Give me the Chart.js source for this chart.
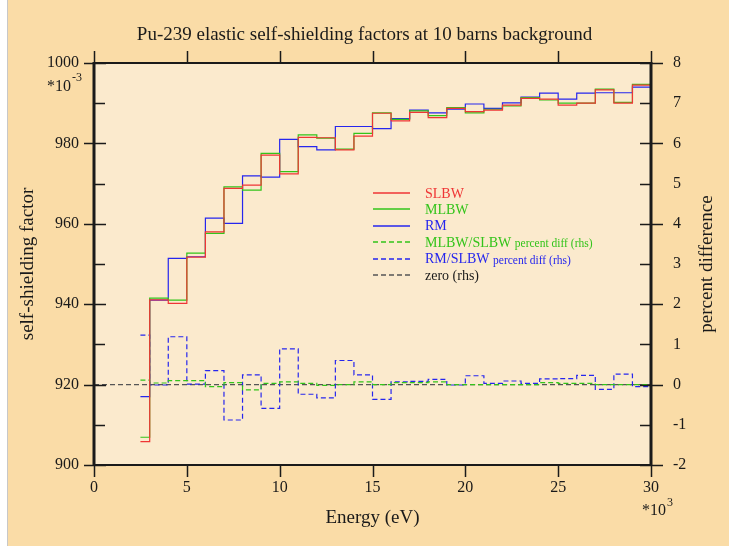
<!DOCTYPE html>
<html>
<head>
<meta charset="utf-8">
<script src="https://cdn.jsdelivr.net/npm/chart.js@4.4.1/dist/chart.umd.min.js"></script>
<style>
html, body { margin: 0; padding: 0; background: #fff; }
#c { display: block; }
</style>
</head>
<body>
<canvas id="c" width="729" height="546"></canvas>
<script>
// energy bins, in units of 10^3 eV (each bin holds its value until the next start)
var binStart = [2.5, 3, 4, 5, 6, 7, 8, 9, 10, 11, 12, 13, 14, 15, 16, 17, 18, 19, 20, 21, 22, 23, 24, 25, 26, 27, 28, 29];
var binEnd = 30;
// self-shielding factors, in units of 10^-3
var slbw = [905.8, 941.1, 940.2, 951.7, 958.0, 968.8, 969.6, 977.1, 972.4, 981.5, 981.4, 978.4, 981.8, 987.5,
  985.6, 987.7, 986.4, 988.7, 987.9, 988.3, 989.5, 991.2, 991.0, 989.5, 990.0, 993.3, 990.0, 994.5];
var mlbw = [906.9, 941.5, 941.0, 952.7, 957.6, 969.2, 968.4, 977.5, 973.0, 982.1, 981.3, 978.6, 982.5, 987.6,
  986.0, 988.1, 986.9, 988.9, 987.6, 988.5, 989.3, 991.4, 990.8, 990.0, 990.0, 993.5, 990.2, 994.7];
var rm = [917.0, 941.0, 951.4, 951.8, 961.4, 960.1, 971.9, 971.6, 981.0, 979.2, 978.4, 984.2, 984.2, 983.7,
  986.2, 988.3, 987.6, 988.5, 989.8, 988.7, 990.1, 991.5, 992.5, 991.0, 992.5, 992.6, 992.6, 994.0];
// percent differences (rhs)
var mlbwPct = [0.11, 0.04, 0.10, 0.10, -0.05, 0.05, -0.13, 0.03, 0.07, 0.03, -0.02, 0.00, 0.07, 0.00,
  0.05, 0.05, 0.07, 0.00, 0.00, 0.00, 0.00, 0.00, 0.05, 0.03, 0.03, 0.00, 0.00, 0.00];
var rmPct = [1.23, -0.01, 1.19, 0.01, 0.35, -0.88, 0.24, -0.59, 0.89, -0.24, -0.33, 0.60, 0.24, -0.37,
  0.07, 0.08, 0.13, -0.01, 0.22, 0.03, 0.09, 0.03, 0.14, 0.15, 0.23, -0.12, 0.26, -0.05];
var zeroX = [0, 30];
var zeroY = [0, 0];

// axes
var xTicks = [0, 5, 10, 15, 20, 25, 30];
var leftTicks = [900, 920, 940, 960, 980, 1000];
var leftMinor = [910, 930, 950, 970, 990];
var rightTicks = [-2, -1, 0, 1, 2, 3, 4, 5, 6, 7, 8];
var rightMajor = [-2, 0, 2, 4, 6, 8];

var legendNames = ['SLBW', 'MLBW', 'RM', 'MLBW/SLBW', 'RM/SLBW', 'zero (rhs)'];
var legendSuffix = ['', '', '', 'percent diff (rhs)', 'percent diff (rhs)', ''];

const SERIF = '"Liberation Serif", "DejaVu Serif", serif';
const RED = '#ef3535';
const GREEN = '#33c41a';
const BLUE = '#2626ee';
const ZERO = '#555555';

function steps(vals) {
  var pts = binStart.map(function (x, i) { return { x: x, y: vals[i] }; });
  pts.push({ x: binEnd, y: vals[vals.length - 1] });
  return pts;
}

var bgPlugin = {
  id: 'bg',
  beforeDraw: function (chart) {
    var ctx = chart.ctx, a = chart.chartArea;
    ctx.save();
    ctx.fillStyle = '#fadca7';
    ctx.fillRect(0, 0, chart.width, chart.height);
    ctx.fillStyle = '#ffffff';
    ctx.fillRect(0, 0, 7, chart.height);
    ctx.fillStyle = '#c8c8c8';
    ctx.fillRect(7, 0, 1, chart.height);
    ctx.fillStyle = '#fbeacd';
    ctx.fillRect(a.left, a.top, a.right - a.left, a.bottom - a.top);
    ctx.restore();
  }
};

var framePlugin = {
  id: 'frame',
  afterDraw: function (chart) {
    var ctx = chart.ctx, a = chart.chartArea;
    var x = chart.scales.x, y = chart.scales.y, y1 = chart.scales.y1;
    ctx.save();
    ctx.strokeStyle = '#1a1a1a';
    // ticks
    ctx.lineWidth = 1.5;
    ctx.beginPath();
    leftTicks.forEach(function (v) {
      var py = Math.round(y.getPixelForValue(v)) + 0.5;
      ctx.moveTo(a.left - 10, py); ctx.lineTo(a.left + 12, py);
    });
    leftMinor.forEach(function (v) {
      var py = Math.round(y.getPixelForValue(v)) + 0.5;
      ctx.moveTo(a.left, py); ctx.lineTo(a.left + 11, py);
    });
    rightTicks.forEach(function (v) {
      var py = Math.round(y1.getPixelForValue(v)) + 0.5;
      var out = rightMajor.indexOf(v) >= 0 ? 12 : 0;
      ctx.moveTo(a.right - 11, py); ctx.lineTo(a.right + out, py);
    });
    xTicks.forEach(function (v) {
      var px = Math.round(x.getPixelForValue(v)) + 0.5;
      ctx.moveTo(px, a.bottom); ctx.lineTo(px, a.bottom + 12);
      ctx.moveTo(px, a.top); ctx.lineTo(px, a.top - 12);
    });
    ctx.stroke();
    // frame
    ctx.lineWidth = 2;
    ctx.beginPath();
    ctx.moveTo(a.left, a.top); ctx.lineTo(a.right, a.top);
    ctx.moveTo(a.left, a.bottom); ctx.lineTo(a.right, a.bottom);
    ctx.stroke();
    ctx.lineWidth = 3;
    ctx.beginPath();
    ctx.moveTo(a.left, a.top - 1); ctx.lineTo(a.left, a.bottom + 1);
    ctx.moveTo(a.right, a.top - 1); ctx.lineTo(a.right, a.bottom + 1);
    ctx.stroke();

    // exponent notes
    ctx.fillStyle = '#1a1a1a';
    ctx.textBaseline = 'middle';
    ctx.textAlign = 'left';
    ctx.font = '16px ' + SERIF;
    ctx.fillText('*10', 47, 87);
    ctx.fillText('*10', 642, 511);
    ctx.font = '12px ' + SERIF;
    ctx.fillText('-3', 72, 78);
    ctx.fillText('3', 667, 503);

    // right axis title
    ctx.save();
    ctx.translate(707, (a.top + a.bottom) / 2);
    ctx.rotate(-Math.PI / 2);
    ctx.textAlign = 'center';
    ctx.font = '19px ' + SERIF;
    ctx.fillText('percent difference', 0, 0);
    ctx.restore();

    // legend
    var ds = chart.data.datasets;
    for (var i = 0; i < legendNames.length; i++) {
      var d = ds[i];
      var ly = 193 + i * 16.4;
      ctx.strokeStyle = d.borderColor;
      ctx.lineWidth = 1.4;
      ctx.setLineDash(d.borderDash || []);
      ctx.beginPath();
      ctx.moveTo(373, Math.round(ly));
      ctx.lineTo(410, Math.round(ly));
      ctx.stroke();
      ctx.setLineDash([]);
      ctx.fillStyle = i === 5 ? '#1a1a1a' : d.borderColor;
      ctx.font = '14px ' + SERIF;
      ctx.textBaseline = 'middle';
      ctx.fillText(legendNames[i], 425, ly + 1);
      if (legendSuffix[i]) {
        var w = ctx.measureText(legendNames[i] + ' ').width;
        ctx.font = '11.5px ' + SERIF;
        ctx.fillText(legendSuffix[i], 425 + w, ly + 2);
      }
    }
    ctx.restore();
  }
};

var ctx = document.getElementById('c').getContext('2d');
var myChart = new Chart(ctx, {
  type: 'line',
  data: {
    datasets: [{
      label: 'SLBW',
      data: steps(slbw),
      borderColor: RED,
      yAxisID: 'y',
    }, {
      label: 'MLBW',
      data: steps(mlbw),
      borderColor: GREEN,
      yAxisID: 'y',
    }, {
      label: 'RM',
      data: steps(rm),
      borderColor: BLUE,
      yAxisID: 'y',
    }, {
      label: 'MLBW/SLBW percent diff (rhs)',
      data: steps(mlbwPct),
      borderColor: GREEN,
      borderDash: [5, 3],
      yAxisID: 'y1',
    }, {
      label: 'RM/SLBW percent diff (rhs)',
      data: steps(rmPct),
      borderColor: BLUE,
      borderDash: [5, 3],
      yAxisID: 'y1',
    }, {
      label: 'zero (rhs)',
      data: zeroX.map(function (v, i) { return { x: v, y: zeroY[i] }; }),
      borderColor: ZERO,
      borderDash: [5, 3],
      yAxisID: 'y1',
    }]
  },
  options: {
    responsive: false,
    animation: false,
    events: [],
    datasets: {
      line: { stepped: 'before', pointRadius: 0, borderWidth: 1.2, fill: false, tension: 0 }
    },
    layout: { padding: 0 },
    plugins: {
      legend: { display: false },
      tooltip: { enabled: false },
      title: {
        display: true,
        text: 'Pu-239 elastic self-shielding factors at 10 barns background',
        color: '#1a1a1a',
        font: { family: SERIF, size: 19, weight: 'normal' },
        padding: { top: 24, bottom: 16.2 }
      }
    },
    scales: {
      x: {
        type: 'linear',
        position: 'bottom',
        min: 0,
        max: 30,
        afterBuildTicks: function (s) { s.ticks = xTicks.map(function (v) { return { value: v }; }); },
        afterFit: function (s) { s.height = 81; },
        grid: { display: false, drawTicks: false },
        border: { display: false },
        ticks: { color: '#1a1a1a', font: { family: SERIF, size: 16 }, padding: 13.5, maxRotation: 0,
          callback: function (v) { return String(v); } },
        title: {
          display: true,
          text: 'Energy (eV)',
          color: '#1a1a1a',
          font: { family: SERIF, size: 19 },
          padding: { top: 0, bottom: 16.6 }
        }
      },
      y: {
        type: 'linear',
        position: 'left',
        min: 900,
        max: 1000,
        afterBuildTicks: function (s) { s.ticks = leftTicks.map(function (v) { return { value: v }; }); },
        afterFit: function (s) { s.width = 94; },
        grid: { display: false, drawTicks: false },
        border: { display: false },
        ticks: { color: '#1a1a1a', font: { family: SERIF, size: 16 }, padding: 15,
          callback: function (v) { return String(v); } },
        title: {
          display: true,
          text: 'self-shielding factor',
          color: '#1a1a1a',
          font: { family: SERIF, size: 19 },
          padding: { top: 17, bottom: 0 }
        }
      },
      y1: {
        type: 'linear',
        position: 'right',
        min: -2,
        max: 8,
        afterBuildTicks: function (s) { s.ticks = rightTicks.map(function (v) { return { value: v }; }); },
        afterFit: function (s) { s.width = 78; },
        grid: { display: false, drawTicks: false },
        border: { display: false },
        ticks: { color: '#1a1a1a', font: { family: SERIF, size: 16 }, padding: 22,
          callback: function (v) { return String(v); } }
      }
    }
  },
  plugins: [bgPlugin, framePlugin]
});
</script>
</body>
</html>
